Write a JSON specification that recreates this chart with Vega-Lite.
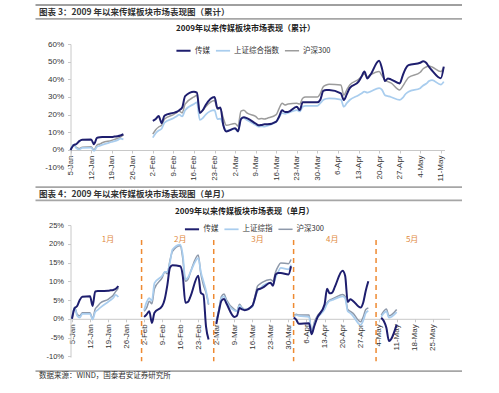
{
  "$schema": "https://vega.github.io/schema/vega-lite/v6.json",
  "padding": {"left": 35, "top": 4.5, "right": 0, "bottom": 0},
  "background": "white",
  "spacing": 1.8,
  "resolve": {"scale": {"color": "independent", "strokeWidth": "independent", "x": "independent", "y": "independent"}, "legend": {"color": "independent"}},
  "config": {
    "view": {"stroke": null},
    "font": "Liberation Sans",
    "axis": {"labelFont": "Liberation Sans", "labelColor": "#333333", "domainColor": "#c8c8c8", "tickColor": "#c8c8c8", "tickSize": 3, "grid": false, "title": null, "labelPadding": 4, "domainWidth": 1, "labelOverlap": false, "labelBound": false, "labelFlush": false},
    "axisX": {"labelAngle": -90, "labelPadding": 2},
    "title": {"font": "Noto Sans CJK SC", "color": "#222222"},
    "legend": {"orient": "none", "direction": "horizontal", "title": null, "labelFont": "Noto Sans CJK SC", "labelFontSize": 7.5, "labelColor": "#333333", "symbolType": "stroke", "symbolSize": 200, "symbolStrokeWidth": 2, "columnPadding": 2, "labelOffset": 3}
  },
  "title": {"text": "数据来源：WIND，国泰君安证券研究所", "orient": "bottom", "anchor": "start", "fontSize": 7.5, "fontWeight": "normal", "color": "#333333", "offset": 1.8, "dx": 4},
  "vconcat": [
    {"width": 427, "height": 0.01, "data": {"values": []}, "mark": "rule",
     "encoding": {"x": {"field": "h", "type": "quantitative", "scale": {"domain": [0, 1]}, "axis": {"orient": "top", "labels": false, "ticks": false, "grid": false, "domain": true, "domainColor": "#404040", "domainWidth": 1, "title": null}}}},
    {
      "spacing": 5.3,
      "resolve": {"scale": {"color": "independent", "strokeWidth": "independent", "x": "independent", "y": "independent"}, "legend": {"color": "independent"}},
      "vconcat": [
        {
          "title": {"text": "图表 3：2009 年以来传媒板块市场表现图（累计）", "anchor": "start", "fontSize": 8.5, "fontWeight": "bold", "offset": 2.1, "dx": 4, "color": "#333333"},
          "spacing": 5.7,
          "resolve": {"scale": {"color": "independent", "strokeWidth": "independent", "x": "independent", "y": "independent"}, "legend": {"color": "independent"}},
          "vconcat": [
            {"width": 427, "height": 0.01, "data": {"values": []}, "mark": "rule",
             "encoding": {"x": {"field": "h", "type": "quantitative", "scale": {"domain": [0, 1]}, "axis": {"orient": "top", "labels": false, "ticks": false, "grid": false, "domain": true, "domainColor": "#a6a6a6", "domainWidth": 1.8, "title": null}}}},
            {
              "title": {"text": "2009年以来传媒板块市场表现（累计）", "fontSize": 8, "fontWeight": "bold", "offset": 7, "dx": -3, "anchor": "middle"},
              "width": 427,
              "height": 124,
              "data": {
                "format": {"parse": {"d": "date:'%Y-%m-%d'"}},
                "values": [
                  {"d": "2009-01-05", "传媒": 0, "上证综合指数": 0, "沪深300": 0, "g": 1},
                  {"d": "2009-01-06", "传媒": 2.6, "上证综合指数": 3.0, "沪深300": 3.0, "g": 1},
                  {"d": "2009-01-07", "传媒": 3.4, "上证综合指数": 1.0, "沪深300": 1.5, "g": 1},
                  {"d": "2009-01-08", "传媒": 5.0, "上证综合指数": 0.3, "沪深300": 0.8, "g": 1},
                  {"d": "2009-01-09", "传媒": 5.8, "上证综合指数": 1.2, "沪深300": 1.6, "g": 1},
                  {"d": "2009-01-12", "传媒": 6.0, "上证综合指数": 1.3, "沪深300": 1.8, "g": 1},
                  {"d": "2009-01-13", "传媒": 3.3, "上证综合指数": -0.5, "沪深300": 0.0, "g": 1},
                  {"d": "2009-01-14", "传媒": 6.8, "上证综合指数": 1.8, "沪深300": 2.8, "g": 1},
                  {"d": "2009-01-15", "传媒": 7.2, "上证综合指数": 2.4, "沪深300": 3.4, "g": 1},
                  {"d": "2009-01-16", "传媒": 7.3, "上证综合指数": 3.0, "沪深300": 4.2, "g": 1},
                  {"d": "2009-01-19", "传媒": 7.4, "上证综合指数": 4.5, "沪深300": 5.4, "g": 1},
                  {"d": "2009-01-20", "传媒": 7.6, "上证综合指数": 5.0, "沪深300": 6.0, "g": 1},
                  {"d": "2009-01-21", "传媒": 7.8, "上证综合指数": 5.6, "沪深300": 6.5, "g": 1},
                  {"d": "2009-01-22", "传媒": 8.2, "上证综合指数": 6.4, "沪深300": 7.3, "g": 1},
                  {"d": "2009-01-23", "传媒": 8.9, "上证综合指数": 6.0, "沪深300": 8.5, "g": 1},
                  {"d": "2009-02-02", "传媒": 16.5, "上证综合指数": 7.0, "沪深300": 9.0, "g": 2},
                  {"d": "2009-02-03", "传媒": 17.5, "上证综合指数": 9.5, "沪深300": 11.5, "g": 2},
                  {"d": "2009-02-04", "传媒": 19.2, "上证综合指数": 11.0, "沪深300": 13.0, "g": 2},
                  {"d": "2009-02-05", "传媒": 15.2, "上证综合指数": 12.0, "沪深300": 14.0, "g": 2},
                  {"d": "2009-02-06", "传媒": 19.5, "上证综合指数": 15.5, "沪深300": 17.5, "g": 2},
                  {"d": "2009-02-09", "传媒": 21.0, "上证综合指数": 18.0, "沪深300": 20.0, "g": 2},
                  {"d": "2009-02-10", "传媒": 21.5, "上证综合指数": 19.0, "沪深300": 21.0, "g": 2},
                  {"d": "2009-02-11", "传媒": 22.5, "上证综合指数": 20.0, "沪深300": 22.0, "g": 2},
                  {"d": "2009-02-12", "传媒": 24.0, "上证综合指数": 19.0, "沪深300": 21.0, "g": 2},
                  {"d": "2009-02-13", "传媒": 30.5, "上证综合指数": 22.5, "沪深300": 26.0, "g": 2},
                  {"d": "2009-02-16", "传媒": 33.0, "上证综合指数": 26.0, "沪深300": 30.0, "g": 2},
                  {"d": "2009-02-17", "传媒": 32.5, "上证综合指数": 27.0, "沪深300": 31.0, "g": 2},
                  {"d": "2009-02-18", "传媒": 21.0, "上证综合指数": 17.0, "沪深300": 21.0, "g": 2},
                  {"d": "2009-02-19", "传媒": 22.5, "上证综合指数": 18.0, "沪深300": 22.5, "g": 2},
                  {"d": "2009-02-20", "传媒": 25.5, "上证综合指数": 20.0, "沪深300": 24.5, "g": 2},
                  {"d": "2009-02-23", "传媒": 30.0, "上证综合指数": 22.5, "沪深300": 28.0, "g": 2},
                  {"d": "2009-02-24", "传媒": 23.6, "上证综合指数": 17.5, "沪深300": 23.0, "g": 2},
                  {"d": "2009-02-25", "传媒": 24.0, "上证综合指数": 17.8, "沪深300": 23.5, "g": 2},
                  {"d": "2009-02-26", "传媒": 14.0, "上证综合指数": 14.0, "沪深300": 18.0, "g": 2},
                  {"d": "2009-02-27", "传媒": 10.5, "上证综合指数": 11.0, "沪深300": 14.0, "g": 2},
                  {"d": "2009-03-02", "传媒": 12.3, "上证综合指数": 12.0, "沪深300": 15.0, "g": 2},
                  {"d": "2009-03-03", "传媒": 10.5, "上证综合指数": 10.5, "沪深300": 13.5, "g": 2},
                  {"d": "2009-03-04", "传媒": 17.5, "上证综合指数": 18.0, "沪深300": 22.0, "g": 2},
                  {"d": "2009-03-05", "传媒": 18.5, "上证综合指数": 18.0, "沪深300": 22.5, "g": 2},
                  {"d": "2009-03-06", "传媒": 18.0, "上证综合指数": 17.0, "沪深300": 21.0, "g": 2},
                  {"d": "2009-03-09", "传媒": 15.0, "上证综合指数": 14.2, "沪深300": 19.0, "g": 2},
                  {"d": "2009-03-10", "传媒": 14.0, "上证综合指数": 13.2, "沪深300": 17.5, "g": 2},
                  {"d": "2009-03-11", "传媒": 14.2, "上证综合指数": 13.4, "沪深300": 17.8, "g": 2},
                  {"d": "2009-03-12", "传媒": 14.5, "上证综合指数": 13.2, "沪深300": 17.5, "g": 2},
                  {"d": "2009-03-13", "传媒": 14.5, "上证综合指数": 13.8, "沪深300": 18.0, "g": 2},
                  {"d": "2009-03-16", "传媒": 16.0, "上证综合指数": 16.0, "沪深300": 20.0, "g": 2},
                  {"d": "2009-03-17", "传媒": 19.0, "上证综合指数": 18.5, "沪深300": 23.6, "g": 2},
                  {"d": "2009-03-18", "传媒": 22.5, "上证综合指数": 20.8, "沪深300": 26.4, "g": 2},
                  {"d": "2009-03-19", "传媒": 21.5, "上证综合指数": 20.5, "沪深300": 25.5, "g": 2},
                  {"d": "2009-03-20", "传媒": 21.5, "上证综合指数": 21.0, "沪深300": 26.0, "g": 2},
                  {"d": "2009-03-23", "传媒": 24.5, "上证综合指数": 22.6, "沪深300": 26.4, "g": 2},
                  {"d": "2009-03-24", "传媒": 22.6, "上证综合指数": 21.8, "沪深300": 26.0, "g": 2},
                  {"d": "2009-03-25", "传媒": 27.0, "上证综合指数": 24.5, "沪深300": 29.3, "g": 2},
                  {"d": "2009-03-26", "传媒": 27.0, "上证综合指数": 25.0, "沪深300": 30.0, "g": 2},
                  {"d": "2009-03-27", "传媒": 27.0, "上证综合指数": 25.0, "沪深300": 30.0, "g": 2},
                  {"d": "2009-03-30", "传媒": 27.0, "上证综合指数": 25.0, "沪深300": 30.0, "g": 2},
                  {"d": "2009-03-31", "传媒": 28.5, "上证综合指数": 26.5, "沪深300": 32.0, "g": 2},
                  {"d": "2009-04-01", "传媒": 33.5, "上证综合指数": 28.3, "沪深300": 35.8, "g": 2},
                  {"d": "2009-04-02", "传媒": 34.0, "上证综合指数": 29.0, "沪深300": 36.8, "g": 2},
                  {"d": "2009-04-03", "传媒": 34.0, "上证综合指数": 29.2, "沪深300": 37.2, "g": 2},
                  {"d": "2009-04-07", "传媒": 32.0, "上证综合指数": 28.5, "沪深300": 36.8, "g": 2},
                  {"d": "2009-04-08", "传媒": 28.3, "上证综合指数": 24.5, "沪深300": 31.0, "g": 2},
                  {"d": "2009-04-09", "传媒": 31.5, "上证综合指数": 26.5, "沪深300": 34.0, "g": 2},
                  {"d": "2009-04-10", "传媒": 35.0, "上证综合指数": 28.3, "沪深300": 36.8, "g": 2},
                  {"d": "2009-04-13", "传媒": 38.7, "上证综合指数": 31.0, "沪深300": 40.0, "g": 2},
                  {"d": "2009-04-14", "传媒": 41.5, "上证综合指数": 32.0, "沪深300": 41.5, "g": 2},
                  {"d": "2009-04-15", "传媒": 44.4, "上证综合指数": 33.0, "沪深300": 43.0, "g": 2},
                  {"d": "2009-04-16", "传媒": 40.5, "上证综合指数": 32.5, "沪深300": 41.5, "g": 2},
                  {"d": "2009-04-17", "传媒": 42.5, "上证综合指数": 33.0, "沪深300": 42.5, "g": 2},
                  {"d": "2009-04-20", "传媒": 50.5, "上证综合指数": 35.0, "沪深300": 44.4, "g": 2},
                  {"d": "2009-04-21", "传媒": 46.0, "上证综合指数": 34.0, "沪深300": 42.0, "g": 2},
                  {"d": "2009-04-22", "传媒": 39.0, "上证综合指数": 31.0, "沪深300": 39.6, "g": 2},
                  {"d": "2009-04-23", "传媒": 40.5, "上证综合指数": 30.5, "沪深300": 38.7, "g": 2},
                  {"d": "2009-04-24", "传媒": 40.0, "上证综合指数": 30.0, "沪深300": 38.0, "g": 2},
                  {"d": "2009-04-27", "传媒": 37.7, "上证综合指数": 28.3, "沪深300": 34.0, "g": 2},
                  {"d": "2009-04-28", "传媒": 42.0, "上证综合指数": 29.5, "沪深300": 36.0, "g": 2},
                  {"d": "2009-04-29", "传媒": 46.0, "上证综合指数": 31.7, "沪深300": 38.7, "g": 2},
                  {"d": "2009-04-30", "传媒": 48.0, "上证综合指数": 33.0, "沪深300": 41.0, "g": 2},
                  {"d": "2009-05-04", "传媒": 49.4, "上证综合指数": 35.0, "沪深300": 44.0, "g": 2},
                  {"d": "2009-05-05", "传媒": 50.2, "上证综合指数": 36.5, "沪深300": 46.0, "g": 2},
                  {"d": "2009-05-06", "传媒": 49.4, "上证综合指数": 37.5, "沪深300": 47.0, "g": 2},
                  {"d": "2009-05-07", "传媒": 47.0, "上证综合指数": 39.0, "沪深300": 47.5, "g": 2},
                  {"d": "2009-05-08", "传媒": 45.0, "上证综合指数": 39.6, "沪深300": 47.0, "g": 2},
                  {"d": "2009-05-11", "传媒": 40.6, "上证综合指数": 37.0, "沪深300": 44.4, "g": 2},
                  {"d": "2009-05-12", "传媒": 47.2, "上证综合指数": 38.7, "沪深300": 46.8, "g": 2}
                ]
              },
              "transform": [{"fold": ["沪深300", "上证综合指数", "传媒"], "as": ["s", "v"]}],
              "mark": {"type": "line", "interpolate": "monotone"},
              "encoding": {
                "x": {
                  "field": "d", "type": "temporal",
                  "scale": {"domain": [{"year": 2009, "month": 1, "date": 5}, {"year": 2009, "month": 5, "date": 12, "hours": 6}], "range": [35.5, 409.5]},
                  "axis": {
                    "format": "%-d-%b", "offset": -18, "labelFontSize": 8,
                    "values": [
                      {"year": 2009, "month": 1, "date": 5}, {"year": 2009, "month": 1, "date": 12}, {"year": 2009, "month": 1, "date": 19}, {"year": 2009, "month": 1, "date": 26},
                      {"year": 2009, "month": 2, "date": 2}, {"year": 2009, "month": 2, "date": 9}, {"year": 2009, "month": 2, "date": 16}, {"year": 2009, "month": 2, "date": 23},
                      {"year": 2009, "month": 3, "date": 2}, {"year": 2009, "month": 3, "date": 9}, {"year": 2009, "month": 3, "date": 16}, {"year": 2009, "month": 3, "date": 23}, {"year": 2009, "month": 3, "date": 30},
                      {"year": 2009, "month": 4, "date": 6}, {"year": 2009, "month": 4, "date": 13}, {"year": 2009, "month": 4, "date": 20}, {"year": 2009, "month": 4, "date": 27},
                      {"year": 2009, "month": 5, "date": 4}, {"year": 2009, "month": 5, "date": 11}
                    ]
                  }
                },
                "y": {
                  "field": "v", "type": "quantitative",
                  "scale": {"domain": [-10.2, 60], "nice": false},
                  "axis": {"values": [-10, 0, 10, 20, 30, 40, 50, 60], "labelExpr": "datum.value + '%'", "labelFontSize": 8, "offset": -35.5}
                },
                "color": {
                  "field": "s", "type": "nominal",
                  "scale": {"domain": ["传媒", "上证综合指数", "沪深300"], "range": ["#1E1E6E", "#A9CDEE", "#9C9C9C"]},
                  "legend": {"legendX": 140, "legendY": -2}
                },
                "strokeWidth": {
                  "field": "s", "type": "nominal",
                  "scale": {"domain": ["传媒", "上证综合指数", "沪深300"], "range": [2, 1.5, 1.5]},
                  "legend": null
                },
                "detail": {"field": "g", "type": "nominal"}
              }
            }
          ]
        },
        {
          "spacing": 1.25,
          "resolve": {"scale": {"color": "independent", "strokeWidth": "independent", "x": "independent", "y": "independent"}, "legend": {"color": "independent"}},
          "vconcat": [
            {"width": 427, "height": 0.01, "data": {"values": []}, "mark": "rule",
             "encoding": {"x": {"field": "h", "type": "quantitative", "scale": {"domain": [0, 1]}, "axis": {"orient": "top", "labels": false, "ticks": false, "grid": false, "domain": true, "domainColor": "#a6a6a6", "domainWidth": 1.8, "title": null}}}},
            {
              "spacing": 7.7,
              "resolve": {"scale": {"color": "independent", "strokeWidth": "independent", "x": "independent", "y": "independent"}, "legend": {"color": "independent"}},
              "vconcat": [
                {
                  "title": {"text": "图表 4：2009 年以来传媒板块市场表现图（单月）", "anchor": "start", "fontSize": 8.5, "fontWeight": "bold", "offset": 1.85, "dx": 4, "color": "#333333"},
                  "spacing": 6.2,
                  "resolve": {"scale": {"color": "independent", "strokeWidth": "independent", "x": "independent", "y": "independent"}, "legend": {"color": "independent"}},
                  "vconcat": [
                    {"width": 427, "height": 0.01, "data": {"values": []}, "mark": "rule",
                     "encoding": {"x": {"field": "h", "type": "quantitative", "scale": {"domain": [0, 1]}, "axis": {"orient": "top", "labels": false, "ticks": false, "grid": false, "domain": true, "domainColor": "#a6a6a6", "domainWidth": 1.8, "title": null}}}},
                    {
                      "title": {"text": "2009年以来传媒板块市场表现（单月）", "fontSize": 8, "fontWeight": "bold", "offset": 5, "dx": -4, "anchor": "middle"},
                      "width": 427,
                      "height": 132,
                      "encoding": {
                        "x": {
                          "field": "d", "type": "temporal",
                          "scale": {"domain": [{"year": 2009, "month": 1, "date": 4, "hours": 10}, {"year": 2009, "month": 5, "date": 31, "hours": 12}], "range": [35.5, 414.5]},
                          "axis": {
                            "format": "%-d-%b", "offset": -38.25, "labelFontSize": 8,
                            "values": [
                              {"year": 2009, "month": 1, "date": 5}, {"year": 2009, "month": 1, "date": 12}, {"year": 2009, "month": 1, "date": 19}, {"year": 2009, "month": 1, "date": 26},
                              {"year": 2009, "month": 2, "date": 2}, {"year": 2009, "month": 2, "date": 9}, {"year": 2009, "month": 2, "date": 16}, {"year": 2009, "month": 2, "date": 23},
                              {"year": 2009, "month": 3, "date": 2}, {"year": 2009, "month": 3, "date": 9}, {"year": 2009, "month": 3, "date": 16}, {"year": 2009, "month": 3, "date": 23}, {"year": 2009, "month": 3, "date": 30},
                              {"year": 2009, "month": 4, "date": 6}, {"year": 2009, "month": 4, "date": 13}, {"year": 2009, "month": 4, "date": 20}, {"year": 2009, "month": 4, "date": 27},
                              {"year": 2009, "month": 5, "date": 4}, {"year": 2009, "month": 5, "date": 11}, {"year": 2009, "month": 5, "date": 18}, {"year": 2009, "month": 5, "date": 25}
                            ]
                          }
                        }
                      },
                      "layer": [
                        {
                          "data": {
                            "format": {"parse": {"d": "date:'%Y-%m-%d'"}},
                            "values": [
                              {"d": "2009-01-05", "传媒": 0, "上证综指": 0, "沪深300": 0, "g": 1},
                              {"d": "2009-01-06", "传媒": 2.8, "上证综指": 3.0, "沪深300": 3.1, "g": 1},
                              {"d": "2009-01-07", "传媒": 3.4, "上证综指": 0.8, "沪深300": 1.2, "g": 1},
                              {"d": "2009-01-08", "传媒": 5.0, "上证综指": 0.3, "沪深300": 0.8, "g": 1},
                              {"d": "2009-01-09", "传媒": 5.9, "上证综指": 1.3, "沪深300": 1.6, "g": 1},
                              {"d": "2009-01-12", "传媒": 6.0, "上证综指": 1.3, "沪深300": 1.6, "g": 1},
                              {"d": "2009-01-13", "传媒": 3.4, "上证综指": -0.2, "沪深300": 0.0, "g": 1},
                              {"d": "2009-01-14", "传媒": 7.3, "上证综指": 1.8, "沪深300": 2.6, "g": 1},
                              {"d": "2009-01-15", "传媒": 7.4, "上证综指": 2.4, "沪深300": 3.4, "g": 1},
                              {"d": "2009-01-16", "传媒": 7.4, "上证综指": 3.0, "沪深300": 4.2, "g": 1},
                              {"d": "2009-01-19", "传媒": 7.5, "上证综指": 4.5, "沪深300": 5.2, "g": 1},
                              {"d": "2009-01-20", "传媒": 7.6, "上证综指": 5.0, "沪深300": 5.7, "g": 1},
                              {"d": "2009-01-21", "传媒": 7.7, "上证综指": 5.6, "沪深300": 6.3, "g": 1},
                              {"d": "2009-01-22", "传媒": 8.0, "上证综指": 6.4, "沪深300": 7.3, "g": 1},
                              {"d": "2009-01-23", "传媒": 8.7, "上证综指": 5.8, "沪深300": 8.2, "g": 1},
                              {"d": "2009-02-02", "传媒": 0.5, "上证综指": 2.3, "沪深300": 2.0, "g": 2},
                              {"d": "2009-02-03", "传媒": 1.2, "上证综指": 4.5, "沪深300": 3.0, "g": 2},
                              {"d": "2009-02-04", "传媒": 2.0, "上证综指": 5.5, "沪深300": 4.7, "g": 2},
                              {"d": "2009-02-05", "传媒": -1.1, "上证综指": 4.8, "沪深300": 4.0, "g": 2},
                              {"d": "2009-02-06", "传媒": 1.6, "上证综指": 9.5, "沪深300": 8.0, "g": 2},
                              {"d": "2009-02-09", "传媒": 3.4, "上证综指": 11.5, "沪深300": 11.0, "g": 2},
                              {"d": "2009-02-10", "传媒": 5.3, "上证综指": 12.5, "沪深300": 12.5, "g": 2},
                              {"d": "2009-02-11", "传媒": 9.0, "上证综指": 12.5, "沪深300": 12.0, "g": 2},
                              {"d": "2009-02-12", "传媒": 13.6, "上证综指": 15.0, "沪深300": 15.5, "g": 2},
                              {"d": "2009-02-13", "传媒": 14.3, "上证综指": 18.5, "沪深300": 18.0, "g": 2},
                              {"d": "2009-02-16", "传媒": 14.0, "上证综指": 19.8, "沪深300": 19.5, "g": 2},
                              {"d": "2009-02-17", "传媒": 11.4, "上证综指": 17.0, "沪深300": 16.0, "g": 2},
                              {"d": "2009-02-18", "传媒": 4.3, "上证综指": 10.5, "沪深300": 10.0, "g": 2},
                              {"d": "2009-02-19", "传媒": 4.5, "上证综指": 11.0, "沪深300": 10.5, "g": 2},
                              {"d": "2009-02-20", "传媒": 6.0, "上证综指": 12.5, "沪深300": 12.5, "g": 2},
                              {"d": "2009-02-23", "传媒": 11.5, "上证综指": 16.2, "沪深300": 17.0, "g": 2},
                              {"d": "2009-02-24", "传媒": 6.9, "上证综指": 12.5, "沪深300": 12.0, "g": 2},
                              {"d": "2009-02-25", "传媒": 6.4, "上证综指": 10.0, "沪深300": 9.0, "g": 2},
                              {"d": "2009-02-26", "传媒": -2.0, "上证综指": 7.5, "沪深300": 7.0, "g": 2},
                              {"d": "2009-02-27", "传媒": -5.5, "上证综指": 4.0, "沪深300": 3.8, "g": 2},
                              {"d": "2009-03-02", "传媒": -1.4, "上证综指": -0.8, "沪深300": -1.1, "g": 3},
                              {"d": "2009-03-03", "传媒": 2.0, "上证综指": 2.0, "沪深300": 2.5, "g": 3},
                              {"d": "2009-03-04", "传媒": 4.8, "上证综指": 5.6, "沪深300": 6.0, "g": 3},
                              {"d": "2009-03-05", "传媒": 5.3, "上证综指": 6.0, "沪深300": 6.6, "g": 3},
                              {"d": "2009-03-06", "传媒": 4.0, "上证综指": 4.5, "沪深300": 5.0, "g": 3},
                              {"d": "2009-03-09", "传媒": 0.5, "上证综指": 2.2, "沪深300": 2.5, "g": 3},
                              {"d": "2009-03-10", "传媒": 0.8, "上证综指": 2.0, "沪深300": 2.1, "g": 3},
                              {"d": "2009-03-11", "传媒": 2.9, "上证综指": 3.5, "沪深300": 3.9, "g": 3},
                              {"d": "2009-03-12", "传媒": 2.5, "上证综指": 2.8, "沪深300": 3.0, "g": 3},
                              {"d": "2009-03-13", "传媒": 2.3, "上证综指": 2.4, "沪深300": 2.5, "g": 3},
                              {"d": "2009-03-16", "传媒": 3.5, "上证综指": 3.2, "沪深300": 3.5, "g": 3},
                              {"d": "2009-03-17", "传媒": 5.5, "上证综指": 5.5, "沪深300": 6.0, "g": 3},
                              {"d": "2009-03-18", "传媒": 7.8, "上证综指": 7.4, "沪深300": 8.7, "g": 3},
                              {"d": "2009-03-19", "传媒": 8.0, "上证综指": 8.0, "沪深300": 9.3, "g": 3},
                              {"d": "2009-03-20", "传媒": 8.3, "上证综指": 8.8, "沪深300": 9.8, "g": 3},
                              {"d": "2009-03-23", "传媒": 9.6, "上证综指": 9.6, "沪深300": 10.5, "g": 3},
                              {"d": "2009-03-24", "传媒": 8.8, "上证综指": 9.2, "沪深300": 10.0, "g": 3},
                              {"d": "2009-03-25", "传媒": 11.8, "上证综指": 11.0, "沪深300": 12.5, "g": 3},
                              {"d": "2009-03-26", "传媒": 12.2, "上证综指": 12.5, "沪深300": 14.0, "g": 3},
                              {"d": "2009-03-27", "传媒": 12.2, "上证综指": 13.6, "沪深300": 14.9, "g": 3},
                              {"d": "2009-03-30", "传媒": 11.8, "上证综指": 13.2, "沪深300": 14.7, "g": 3},
                              {"d": "2009-03-31", "传媒": 14.0, "上证综指": 14.4, "沪深300": 15.8, "g": 3},
                              {"d": "2009-04-01", "传媒": 0.3, "上证综指": 0.5, "沪深300": 0.8, "g": 4},
                              {"d": "2009-04-02", "传媒": -0.2, "上证综指": 1.0, "沪深300": 1.2, "g": 4},
                              {"d": "2009-04-03", "传媒": -1.3, "上证综指": 0.8, "沪深300": 1.0, "g": 4},
                              {"d": "2009-04-07", "传媒": -1.2, "上证综指": 0.5, "沪深300": 1.0, "g": 4},
                              {"d": "2009-04-08", "传媒": -4.1, "上证综指": -4.0, "沪深300": -3.7, "g": 4},
                              {"d": "2009-04-09", "传媒": -2.0, "上证综指": -1.5, "沪深300": -1.0, "g": 4},
                              {"d": "2009-04-10", "传媒": 0.0, "上证综指": 0.0, "沪深300": 0.5, "g": 4},
                              {"d": "2009-04-13", "传媒": 3.8, "上证综指": 2.5, "沪深300": 3.0, "g": 4},
                              {"d": "2009-04-14", "传媒": 8.0, "上证综指": 4.0, "沪深300": 4.3, "g": 4},
                              {"d": "2009-04-15", "传媒": 6.8, "上证综指": 4.8, "沪深300": 5.0, "g": 4},
                              {"d": "2009-04-16", "传媒": 7.0, "上证综指": 5.0, "沪深300": 5.3, "g": 4},
                              {"d": "2009-04-17", "传媒": 8.5, "上证综指": 5.3, "沪深300": 5.6, "g": 4},
                              {"d": "2009-04-20", "传媒": 12.8, "上证综指": 6.0, "沪深300": 6.5, "g": 4},
                              {"d": "2009-04-21", "传媒": 11.5, "上证综指": 5.5, "沪深300": 6.0, "g": 4},
                              {"d": "2009-04-22", "传媒": 4.5, "上证综指": 2.0, "沪深300": 2.5, "g": 4},
                              {"d": "2009-04-23", "传媒": 5.2, "上证综指": 1.5, "沪深300": 2.0, "g": 4},
                              {"d": "2009-04-24", "传媒": 4.8, "上证综指": 0.8, "沪深300": 1.5, "g": 4},
                              {"d": "2009-04-27", "传媒": 3.0, "上证综指": -1.6, "沪深300": -0.8, "g": 4},
                              {"d": "2009-04-28", "传媒": 4.3, "上证综指": -0.5, "沪深300": 0.5, "g": 4},
                              {"d": "2009-04-29", "传媒": 7.5, "上证综指": 1.5, "沪深300": 2.5, "g": 4},
                              {"d": "2009-04-30", "传媒": 10.0, "上证综指": 2.1, "沪深300": 2.9, "g": 4},
                              {"d": "2009-05-05", "传媒": 0.3, "上证综指": 0.5, "沪深300": 1.0, "g": 5},
                              {"d": "2009-05-06", "传媒": -0.6, "上证综指": 1.5, "沪深300": 2.0, "g": 5},
                              {"d": "2009-05-07", "传媒": -2.4, "上证综指": 2.0, "沪深300": 2.6, "g": 5},
                              {"d": "2009-05-08", "传媒": -5.9, "上证综指": 0.3, "沪深300": 0.8, "g": 5},
                              {"d": "2009-05-11", "传媒": -1.5, "上证综指": 1.8, "沪深300": 2.5, "g": 5}
                            ]
                          },
                          "transform": [{"fold": ["沪深300", "上证综指", "传媒"], "as": ["s", "v"]}],
                          "mark": {"type": "line", "interpolate": "monotone"},
                          "encoding": {
                            "y": {
                              "field": "v", "type": "quantitative",
                              "scale": {"domain": [-10.2, 25], "nice": false},
                              "axis": {"values": [-10, -5, 0, 5, 10, 15, 20, 25], "labelExpr": "datum.value + '%'", "labelFontSize": 7.5, "offset": -35.5}
                            },
                            "color": {
                              "field": "s", "type": "nominal",
                              "scale": {"domain": ["传媒", "上证综指", "沪深300"], "range": ["#1E1E6E", "#A9CDEE", "#8E99AA"]},
                              "legend": {"legendX": 148.5, "legendY": -4.5}
                            },
                            "strokeWidth": {
                              "field": "s", "type": "nominal",
                              "scale": {"domain": ["传媒", "上证综指", "沪深300"], "range": [2, 1.5, 1.5]},
                              "legend": null
                            },
                            "detail": {"field": "g", "type": "nominal"}
                          }
                        },
                        {
                          "data": {
                            "format": {"parse": {"d": "date:'%Y-%m-%d'"}},
                            "values": [{"d": "2009-02-01"}, {"d": "2009-03-01"}, {"d": "2009-04-01"}, {"d": "2009-05-03"}]
                          },
                          "mark": {"type": "rule", "color": "#EE8A32", "strokeDash": [5, 4], "strokeWidth": 1.5},
                          "encoding": {
                            "y": {
                              "datum": 21,
                              "scale": {"domain": [-10.2, 25], "nice": false},
                              "axis": {"values": [-10, -5, 0, 5, 10, 15, 20, 25], "labelExpr": "datum.value + '%'", "labelFontSize": 7.5, "offset": -35.5}
                            },
                            "y2": {"datum": -11.3}
                          }
                        },
                        {
                          "data": {
                            "format": {"parse": {"d": "date:'%Y-%m-%d'"}},
                            "values": [
                              {"d": "2009-01-19", "t": "1月"},
                              {"d": "2009-02-16", "t": "2月"},
                              {"d": "2009-03-18", "t": "3月"},
                              {"d": "2009-04-16", "t": "4月"},
                              {"d": "2009-05-17", "t": "5月"}
                            ]
                          },
                          "mark": {"type": "text", "font": "Noto Sans CJK SC", "fontSize": 8, "color": "#E0893E"},
                          "encoding": {
                            "y": {
                              "datum": 21,
                              "scale": {"domain": [-10.2, 25], "nice": false},
                              "axis": {"values": [-10, -5, 0, 5, 10, 15, 20, 25], "labelExpr": "datum.value + '%'", "labelFontSize": 7.5, "offset": -35.5}
                            },
                            "text": {"field": "t", "type": "nominal"}
                          }
                        }
                      ]
                    }
                  ]
                },
                {"width": 427, "height": 0.01, "data": {"values": []}, "mark": "rule",
                 "encoding": {"x": {"field": "h", "type": "quantitative", "scale": {"domain": [0, 1]}, "axis": {"orient": "top", "labels": false, "ticks": false, "grid": false, "domain": true, "domainColor": "#a6a6a6", "domainWidth": 1.8, "title": null}}}}
              ]
            }
          ]
        }
      ]
    }
  ]
}
